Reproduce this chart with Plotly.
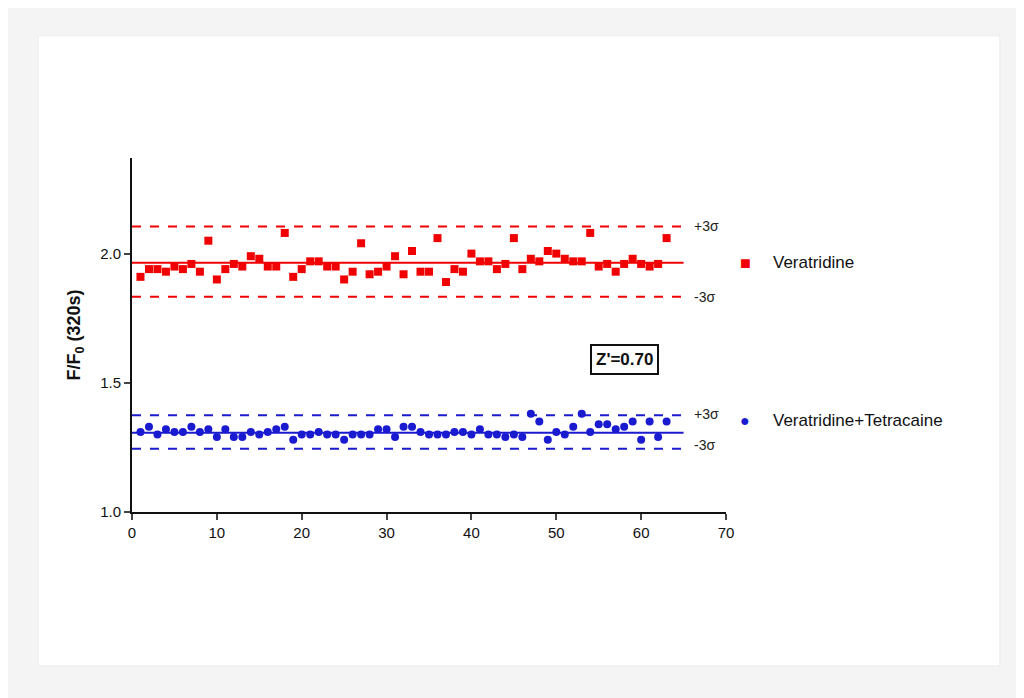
import plotly.graph_objects as go

# Well index
wells = list(range(1, 64))

# F/F0 (320s) per well
veratridine = [1.91, 1.94, 1.94, 1.93, 1.95, 1.94, 1.96, 1.93, 2.05, 1.90,
               1.94, 1.96, 1.95, 1.99, 1.98, 1.95, 1.95, 2.08, 1.91, 1.94,
               1.97, 1.97, 1.95, 1.95, 1.90, 1.93, 2.04, 1.92, 1.93, 1.95,
               1.99, 1.92, 2.01, 1.93, 1.93, 2.06, 1.89, 1.94, 1.93, 2.00,
               1.97, 1.97, 1.94, 1.96, 2.06, 1.94, 1.98, 1.97, 2.01, 2.00,
               1.98, 1.97, 1.97, 2.08, 1.95, 1.96, 1.93, 1.96, 1.98, 1.96,
               1.95, 1.96, 2.06]
tetracaine = [1.31, 1.33, 1.30, 1.32, 1.31, 1.31, 1.33, 1.31, 1.32, 1.29,
              1.32, 1.29, 1.29, 1.31, 1.30, 1.31, 1.32, 1.33, 1.28, 1.30,
              1.30, 1.31, 1.30, 1.30, 1.28, 1.30, 1.30, 1.30, 1.32, 1.32,
              1.29, 1.33, 1.33, 1.31, 1.30, 1.30, 1.30, 1.31, 1.31, 1.30,
              1.32, 1.30, 1.30, 1.29, 1.30, 1.29, 1.38, 1.35, 1.28, 1.31,
              1.30, 1.33, 1.38, 1.31, 1.34, 1.34, 1.32, 1.33, 1.35, 1.28,
              1.35, 1.29, 1.35]

# mean, +3σ, -3σ
vera_lines = [1.965, 2.105, 1.833]
tetra_lines = [1.307, 1.374, 1.245]
line_x = [0, 65]

RED = '#f00000'
BLUE = '#1a1ad0'

fig = go.Figure()

fig.add_trace(go.Scatter(x=wells, y=veratridine, mode='markers',
                         marker=dict(symbol='square', size=8, color=RED),
                         showlegend=False))
fig.add_trace(go.Scatter(x=wells, y=tetracaine, mode='markers',
                         marker=dict(symbol='circle', size=8, color=BLUE),
                         showlegend=False))

for lines, color in [(vera_lines, RED), (tetra_lines, BLUE)]:
    for i, v in enumerate(lines):
        fig.add_trace(go.Scatter(x=line_x, y=[v, v], mode='lines',
                                 line=dict(color=color, width=2,
                                           dash='solid' if i == 0 else 'dash'),
                                 showlegend=False, hoverinfo='skip'))

# sigma labels
for v, txt in [(vera_lines[1], '+3σ'), (vera_lines[2], '-3σ'),
               (tetra_lines[1] + 0.004, '+3σ'), (tetra_lines[2] + 0.015, '-3σ')]:
    fig.add_annotation(x=66, y=v, text=txt, showarrow=False, xanchor='left',
                       font=dict(size=14, color='#222'))

# legend-like labels
fig.add_annotation(xref='paper', yref='y', x=1.02, y=1.965, text='■', showarrow=False,
                   font=dict(size=18, color=RED), xanchor='left')
fig.add_annotation(xref='paper', yref='y', x=1.075, y=1.965, text='Veratridine', showarrow=False,
                   font=dict(size=17, color='#111'), xanchor='left')
fig.add_annotation(xref='paper', yref='y', x=1.02, y=1.355, text='●', showarrow=False,
                   font=dict(size=16, color=BLUE), xanchor='left')
fig.add_annotation(xref='paper', yref='y', x=1.075, y=1.355, text='Veratridine+Tetracaine',
                   showarrow=False, font=dict(size=17, color='#111'), xanchor='left')

fig.add_annotation(x=58, y=1.59, text="<b>Z'=0.70</b>", showarrow=False,
                   font=dict(size=17, color='#111'), bordercolor='#111', borderwidth=2,
                   borderpad=4, bgcolor='white')

# card background
fig.add_shape(type='rect', xref='paper', yref='paper', x0=-0.158, x1=1.461, y0=-0.435, y1=1.345,
              fillcolor='white', line=dict(width=1, color='#ececec'), layer='below')

fig.update_layout(
    width=1024, height=698,
    margin=dict(l=124, r=306, t=150, b=194),
    paper_bgcolor='#f4f4f4', plot_bgcolor='rgba(0,0,0,0)',
    font=dict(family='Arial, Liberation Sans', color='#111'),
    xaxis=dict(range=[0, 70], dtick=10, showgrid=False, zeroline=False,
               showline=True, linecolor='#111', linewidth=2, ticks='outside',
               ticklen=6, tickwidth=2, tickfont=dict(size=15, color='#111')),
    yaxis=dict(range=[1.0, 2.37], tickvals=[1.0, 1.5, 2.0], tickformat='.1f',
               showgrid=False, zeroline=False, showline=True, linecolor='#111',
               linewidth=2, ticks='outside', ticklen=6, tickwidth=2,
               tickfont=dict(size=15, color='#111'),
               title=dict(text='<b>F/F<sub>0</sub> (320s)</b>', font=dict(size=18))),
)

fig.write_html('out.html')
